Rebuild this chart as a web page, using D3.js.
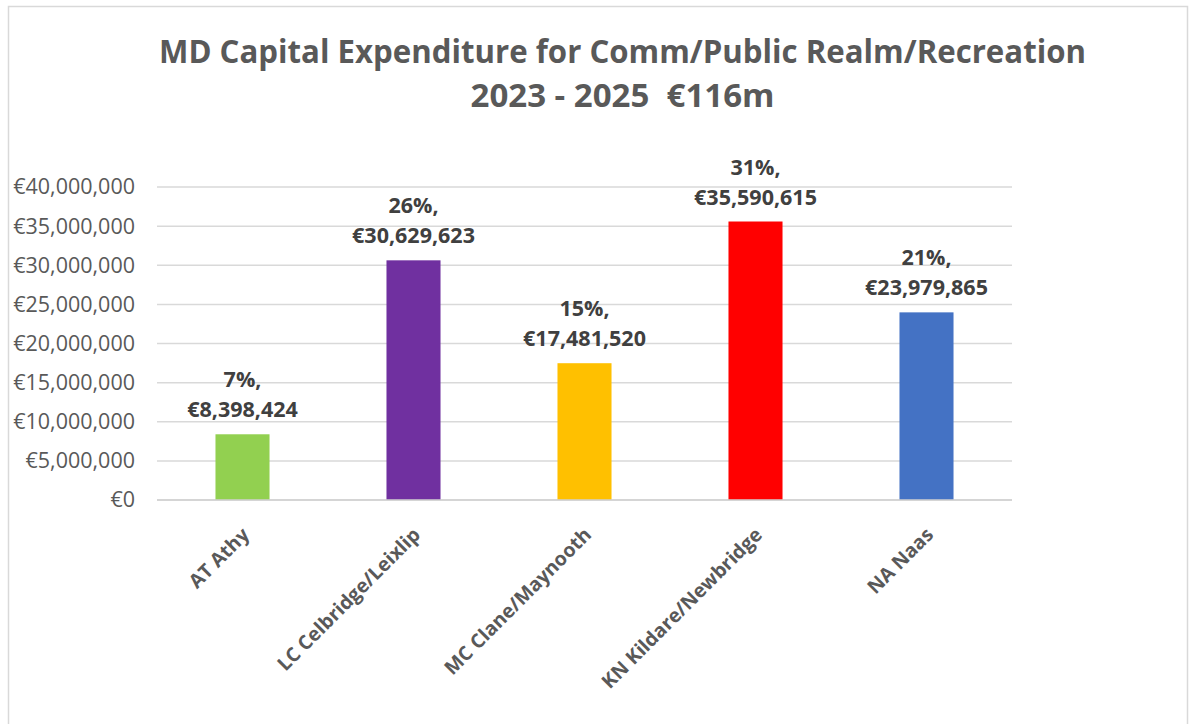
<!DOCTYPE html>
<html>
<head>
<meta charset="utf-8">
<script src="https://cdn.jsdelivr.net/npm/d3@7"></script>
<style>
  html, body { margin: 0; padding: 0; background: #fff; }
  svg { display: block; }
</style>
</head>
<body>
<svg id="chart" width="1189" height="724"></svg>
<script>
const titleLines = ["MD Capital Expenditure for Comm/Public Realm/Recreation", "2023 - 2025\u00A0\u00A0€116m"];
const categories = ["AT Athy", "LC Celbridge/Leixlip", "MC Clane/Maynooth", "KN Kildare/Newbridge", "NA Naas"];
const values = [8398424, 30629623, 17481520, 35590615, 23979865];
const percents = ["7%", "26%", "15%", "31%", "21%"];
const colors = ["#92D050", "#7030A0", "#FFC000", "#FF0000", "#4472C4"];
const yTicks = [0, 5000000, 10000000, 15000000, 20000000, 25000000, 30000000, 35000000, 40000000];

const svg = d3.select("#chart");
const W = 1189, H = 724;
const plot = { left: 157, right: 1012, top: 187, bottom: 500 };

svg.append("rect").attr("width", W).attr("height", H).attr("fill", "#fff");

// chart frame
svg.append("path")
  .attr("d", `M8.5,${H} V6.5 H1187.5 V${H}`)
  .attr("fill", "none").attr("stroke", "#d9d9d9").attr("stroke-width", 1.5);

const x = d3.scaleBand().domain(categories).range([plot.left, plot.right]).paddingInner(0.684).paddingOuter(0.342);
const y = d3.scaleLinear().domain([0, 40000000]).range([plot.bottom, plot.top]);

const fmt = d3.format(",");

// gridlines
svg.append("g").selectAll("line").data(yTicks).join("line")
  .attr("x1", plot.left).attr("x2", plot.right)
  .attr("y1", d => y(d)).attr("y2", d => y(d))
  .attr("stroke", "#d9d9d9").attr("stroke-width", 1.5);

// y axis labels
const yAxis = d3.axisLeft(y).tickValues(yTicks).tickSize(0).tickPadding(0).tickFormat(d => "€" + fmt(d));
const yg = svg.append("g").attr("transform", `translate(135,0)`).call(yAxis);
yg.select(".domain").remove();
yg.selectAll("text")
  .attr("font-family", "'Open Sans', sans-serif").attr("font-size", 21.5)
  .attr("fill", "#595959");

// bars
svg.append("g").selectAll("rect").data(values).join("rect")
  .attr("x", (d, i) => x(categories[i]))
  .attr("width", x.bandwidth())
  .attr("y", d => y(d))
  .attr("height", d => y(0) - y(d))
  .attr("fill", (d, i) => colors[i]);

// baseline
svg.append("line").attr("x1", plot.left).attr("x2", plot.right)
  .attr("y1", y(0)).attr("y2", y(0)).attr("stroke", "#d0d0d0").attr("stroke-width", 1.5);

// data labels
const lbl = svg.append("g").attr("font-family", "'Open Sans', sans-serif").attr("font-weight", "bold")
  .attr("font-size", 21.5).attr("fill", "#404040").attr("text-anchor", "middle");
values.forEach((v, i) => {
  const cx = x(categories[i]) + x.bandwidth() / 2;
  const base = y(v) - 17;
  lbl.append("text").attr("x", cx).attr("y", base - 30).text(percents[i] + ",");
  lbl.append("text").attr("x", cx).attr("y", base).text("€" + fmt(v));
});

// x axis labels
const xAxis = d3.axisBottom(x).tickSize(0).tickPadding(0);
const xg = svg.append("g").attr("transform", `translate(0,${plot.bottom})`).call(xAxis);
xg.select(".domain").remove();
xg.selectAll("text")
  .attr("font-family", "'Open Sans', sans-serif").attr("font-weight", "bold").attr("font-size", 19.5)
  .attr("fill", "#595959")
  .attr("text-anchor", "end")
  .attr("dy", null)
  .attr("y", 0)
  .attr("transform", "translate(8,36) rotate(-45)");

// title
const tg = svg.append("g").attr("font-family", "'Open Sans', sans-serif").attr("font-weight", "bold")
  .attr("font-size", 32).attr("fill", "#595959").attr("text-anchor", "middle");
const targetW = [927, 304];
const baselines = [63, 107];
titleLines.forEach((t, i) => {
  const el = tg.append("text").attr("x", 622.5).attr("y", baselines[i]).text(t);
  const natural = el.node().getComputedTextLength();
  if (Math.abs(natural - targetW[i]) > 2) {
    el.attr("textLength", targetW[i]).attr("lengthAdjust", "spacingAndGlyphs");
  }
});
</script>
</body>
</html>
